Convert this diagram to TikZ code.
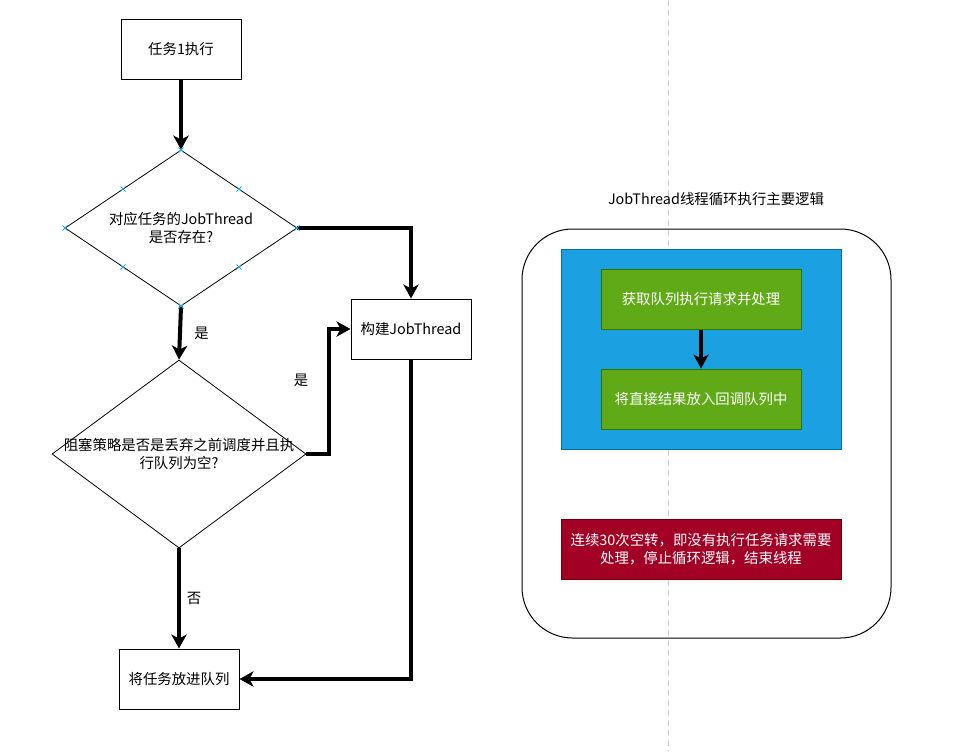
\documentclass[tikz,border=0pt]{standalone}
\usepackage{fontspec}
\setmainfont{Noto Sans CJK SC}
\usetikzlibrary{arrows.meta,shapes.geometric}

\definecolor{loopblue}{HTML}{1BA1E2}
\definecolor{loopblueline}{HTML}{006EAF}
\definecolor{stepgreen}{HTML}{60A917}
\definecolor{stepgreenline}{HTML}{2D7600}
\definecolor{stopred}{HTML}{A20025}
\definecolor{stopredline}{HTML}{6F0000}
\definecolor{handleblue}{HTML}{29A3DC}

\begin{document}
\begin{tikzpicture}[x=0.75pt,y=-0.75pt,
  every node/.style={font=\fontsize{10.8}{14}\selectfont},
  flowbox/.style={draw,line width=0.75pt,minimum width=90pt,minimum height=45pt,inner sep=0pt},
  decision/.style={draw,diamond,line width=0.6pt,inner sep=0pt},
  stepbox/.style={draw=stepgreenline,fill=stepgreen,text=white,line width=0.75pt,
    minimum width=150pt,minimum height=45pt,inner sep=0pt},
  conn/.style={line width=3pt,-{Stealth[length=10.5pt,width=11.5pt,inset=3pt]}}]
  \useasboundingbox (0,0) rectangle (956,751);
  % divider
  \draw[gray!40,line width=0.75pt,dash pattern=on 4.5pt off 3pt] (668,0) -- (668,751);

  % left flow
  \node[flowbox] (task) at (181,49) {任务1执行};
  \node[decision,minimum width=174pt,minimum height=117pt,
    label={[align=center]center:对应任务的JobThread\\是否存在?}] (exists) at (181,228) {};
  \node[decision,minimum width=190.5pt,minimum height=141pt,
    label={[align=center]center:阻塞策略是否是丢弃之前调度并且执\\行队列为空?}] (block) at (179,454) {};
  \node[flowbox] (build) at (411,329) {构建JobThread};
  \node[flowbox] (enqueue) at (179,679) {将任务放进队列};

  \draw[conn] (task) -- (exists.north);
  \draw[conn] (exists.south) -- (block.north) node[midway,right=6pt] {是};
  \draw[conn] (exists.east) -| (build.north);
  \draw[conn] (block.east) -- ++(23,0) |- (build.west);
  \node (yesb) at (301,380) {是};
  \draw[conn] (block.south) -- (enqueue.north) node[midway,right=1pt] {否};
  \draw[conn] (build.south) |- (enqueue.east);

  % handles on the first diamond
  \foreach \hx/\hy in {181/150,181/306,65/228,297/228,123/189,239/189,123/267,239/267}
    \draw[handleblue,line width=0.6pt] (\hx-2.5,\hy-2.5) -- (\hx+2.5,\hy+2.5)
      (\hx-2.5,\hy+2.5) -- (\hx+2.5,\hy-2.5);

  % right side
  \node (title) at (716,199) {JobThread线程循环执行主要逻辑};
  \node[draw,line width=0.75pt,rounded corners=38pt,minimum width=276.75pt,
    minimum height=306.75pt] (loopframe) at (706.5,433.5) {};
  \node[draw=loopblueline,fill=loopblue,line width=0.75pt,minimum width=210pt,
    minimum height=150pt] (loopbody) at (701,349) {};
  \node[stepbox] (fetch) at (701,299) {获取队列执行请求并处理};
  \node[stepbox] (callback) at (701,399) {将直接结果放入回调队列中};
  \draw[conn] (fetch) -- (callback);
  \node[draw=stopredline,fill=stopred,text=white,line width=0.75pt,minimum width=210pt,
    minimum height=45pt,inner sep=0pt,align=center] (stop) at (701,549)
    {连续30次空转，即没有执行任务请求需要\\处理，停止循环逻辑，结束线程};
\end{tikzpicture}
\end{document}
